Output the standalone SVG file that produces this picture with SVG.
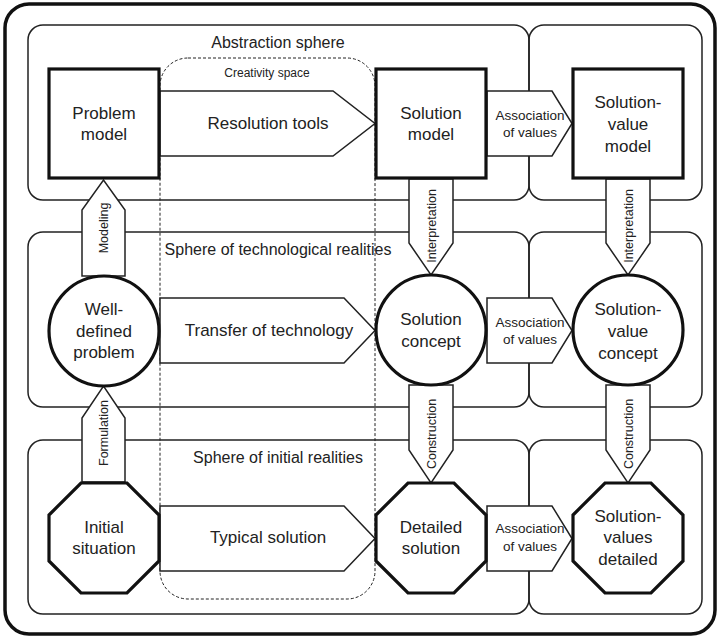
<svg xmlns="http://www.w3.org/2000/svg" width="720" height="638" viewBox="0 0 720 638">
<defs>
<style>
.panel{fill:none;stroke:#222;stroke-width:1.5}
.arrow{fill:#fff;stroke:#222;stroke-width:1.5;stroke-linejoin:miter}
.node{fill:#fff;stroke:#111;stroke-width:3.2}
text{font-family:"Liberation Sans",Arial,sans-serif;fill:#222;text-anchor:middle}
.big{font-size:17px}
.lab{font-size:16px}
.small{font-size:13.5px}
.rot{font-size:12.5px}
</style>
</defs>
<rect width="720" height="638" fill="#fff"/>
<rect x="5" y="4" width="710" height="630" rx="24" fill="none" stroke="#111" stroke-width="3.5"/>
<g id="panels">
<rect class="panel" x="28" y="25" width="501" height="175" rx="15"/>
<rect class="panel" x="529" y="25" width="173" height="175" rx="15"/>
<rect class="panel" x="28" y="232" width="501" height="175" rx="15"/>
<rect class="panel" x="529" y="232" width="173" height="175" rx="15"/>
<rect class="panel" x="28" y="440" width="501" height="174" rx="15"/>
<rect class="panel" x="529" y="440" width="173" height="174" rx="15"/>
<rect x="160" y="58" width="215" height="541" rx="28" fill="none" stroke="#222" stroke-width="1" stroke-dasharray="3,2"/>
<text class="lab" x="278" y="48">Abstraction sphere</text>
<text class="lab" x="278" y="255">Sphere of technological realities</text>
<text class="lab" x="278" y="463">Sphere of initial realities</text>
<text x="267" y="77" style="font-size:12px">Creativity space</text>
</g>
<g id="connectors">
<g id="resolution-tools">
<polygon class="arrow" points="160,91 333,91 375,123.5 333,156 160,156"/>
<text class="big" x="268" y="129">Resolution tools</text>
</g>
<g id="transfer">
<polygon class="arrow" points="160,298 344,298 375,330.5 344,363 160,363"/>
<text class="big" x="269" y="336">Transfer of technology</text>
</g>
<g id="typical">
<polygon class="arrow" points="160,506 344,506 375,538.5 344,571 160,571"/>
<text class="big" x="268" y="543">Typical solution</text>
</g>
<g id="assoc1">
<polygon class="arrow" points="487,91 552,91 572,123.5 552,156 487,156"/>
<text class="small" x="530" y="120">Association</text>
<text class="small" x="530" y="137">of values</text>
</g>
<g id="assoc2">
<polygon class="arrow" points="487,298 552,298 572,330.5 552,363 487,363"/>
<text class="small" x="530" y="327">Association</text>
<text class="small" x="530" y="344">of values</text>
</g>
<g id="assoc3">
<polygon class="arrow" points="487,506 552,506 572,538.5 552,571 487,571"/>
<text class="small" x="530" y="533">Association</text>
<text class="small" x="530" y="551">of values</text>
</g>
<g id="modeling">
<polygon class="arrow" points="82,276 82,210 103.5,180 125,210 125,276"/>
<text class="rot" transform="translate(108,228) rotate(-90)">Modeling</text>
</g>
<g id="formulation">
<polygon class="arrow" points="82,482 82,418 103.5,386 125,418 125,482"/>
<text class="rot" transform="translate(108,433) rotate(-90)">Formulation</text>
</g>
<g id="interp1">
<polygon class="arrow" points="409,179 453,179 453,243 431,275 409,243"/>
<text class="rot" transform="translate(435.5,226) rotate(-90)">Interpretation</text>
</g>
<g id="interp2">
<polygon class="arrow" points="606,179 650,179 650,243 628,275 606,243"/>
<text class="rot" transform="translate(632.5,226) rotate(-90)">Interpretation</text>
</g>
<g id="constr1">
<polygon class="arrow" points="409,385 453,385 453,450 431,483 409,450"/>
<text class="rot" transform="translate(435.5,434) rotate(-90)">Construction</text>
</g>
<g id="constr2">
<polygon class="arrow" points="606,385 650,385 650,450 628,483 606,450"/>
<text class="rot" transform="translate(632.5,434) rotate(-90)">Construction</text>
</g>
</g>
<g id="problem-model">
<rect class="node" x="49" y="69" width="110" height="109"/>
<text class="big" x="104" y="119">Problem</text>
<text class="big" x="104" y="140">model</text>
</g>
<g id="solution-model">
<rect class="node" x="376" y="69" width="110" height="109"/>
<text class="big" x="431" y="119">Solution</text>
<text class="big" x="431" y="140">model</text>
</g>
<g id="solution-value-model">
<rect class="node" x="573" y="69" width="110" height="109"/>
<text class="big" x="628" y="108">Solution-</text>
<text class="big" x="628" y="130">value</text>
<text class="big" x="628" y="152">model</text>
</g>
<g id="well-defined-problem">
<circle class="node" cx="104" cy="331" r="55"/>
<text class="big" x="104" y="315">Well-</text>
<text class="big" x="104" y="337">defined</text>
<text class="big" x="104" y="358">problem</text>
</g>
<g id="solution-concept">
<circle class="node" cx="431" cy="330" r="55"/>
<text class="big" x="431" y="325">Solution</text>
<text class="big" x="431" y="347">concept</text>
</g>
<g id="solution-value-concept">
<circle class="node" cx="628" cy="330" r="55"/>
<text class="big" x="628" y="315">Solution-</text>
<text class="big" x="628" y="337">value</text>
<text class="big" x="628" y="359">concept</text>
</g>
<g id="initial-situation">
<polygon class="node" points="81,483 127,483 159,515 159,561 127,593 81,593 49,561 49,515"/>
<text class="big" x="104" y="533">Initial</text>
<text class="big" x="104" y="554">situation</text>
</g>
<g id="detailed-solution">
<polygon class="node" points="408,483 454,483 486,515 486,561 454,593 408,593 376,561 376,515"/>
<text class="big" x="431" y="533">Detailed</text>
<text class="big" x="431" y="554">solution</text>
</g>
<g id="solution-values-detailed">
<polygon class="node" points="605,483 651,483 683,515 683,561 651,593 605,593 573,561 573,515"/>
<text class="big" x="628" y="522">Solution-</text>
<text class="big" x="628" y="543">values</text>
<text class="big" x="628" y="565">detailed</text>
</g>
</svg>
